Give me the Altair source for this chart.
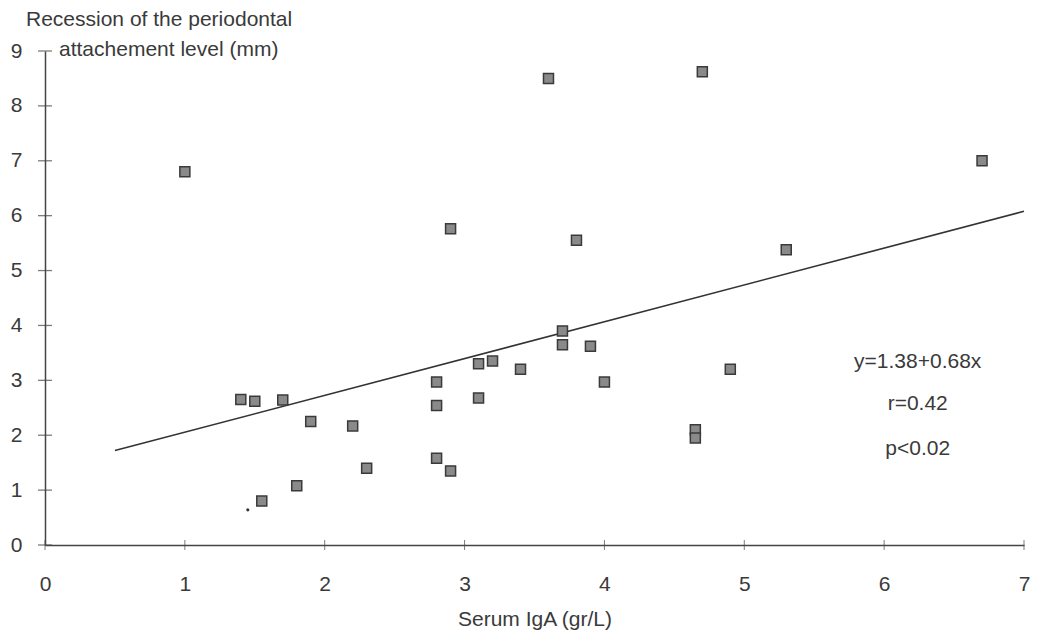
import altair as alt
import pandas as pd

# Scatter points
iga = [1.0, 1.4, 1.5, 1.7, 1.9, 2.2, 2.3, 1.8, 1.55,
       2.8, 2.8, 2.8, 2.9, 3.1, 3.2, 3.1, 3.4, 3.7, 3.7, 3.9, 4.0,
       4.9, 4.65, 4.65, 3.6, 4.7, 2.9, 3.8, 5.3, 6.7]
recession = [6.8, 2.65, 2.62, 2.64, 2.25, 2.17, 1.4, 1.08, 0.8,
             2.97, 2.54, 1.58, 1.35, 3.3, 3.35, 2.68, 3.2, 3.9, 3.65, 3.62, 2.97,
             3.2, 2.1, 1.95, 8.5, 8.62, 5.76, 5.55, 5.38, 7.0]

speck_x = [1.45]
speck_y = [0.64]

# Regression line y = 1.38 + 0.68x, as drawn
line_x = [0.5, 7.0]
line_y = [1.72, 6.08]

stat_labels = ["y=1.38+0.68x", "r=0.42", "p<0.02"]
stat_x = [6.24, 6.24, 6.24]
stat_y = [3.34, 2.57, 1.74]

x_ticks = [0, 1, 2, 3, 4, 5, 6, 7]
y_ticks = [0, 1, 2, 3, 4, 5, 6, 7, 8, 9]

FONT = "Liberation Sans"
TXT = "#3a3a3a"
AX = "#444444"
FS = 21

pts = pd.DataFrame({"x": iga, "y": recession})
speck = pd.DataFrame({"x": speck_x, "y": speck_y})
line = pd.DataFrame({"x": line_x, "y": line_y})
stats = pd.DataFrame({"label": stat_labels, "x": stat_x, "y": stat_y})
xt = pd.DataFrame({"v": x_ticks})
yt = pd.DataFrame({"v": y_ticks})

xs = alt.Scale(domain=[0, 7], nice=False, zero=False)
ys = alt.Scale(domain=[0, 9], nice=False, zero=False)

xaxis = alt.Axis(values=x_ticks, format="d", ticks=False, domainColor=AX, domainWidth=1.5,
                 labelFont=FONT, labelFontSize=FS, labelColor=TXT, labelPadding=28,
                 labelFlush=False,
                 title="Serum IgA (gr/L)", titleFont=FONT, titleFontSize=FS,
                 titleFontWeight="normal", titleColor=TXT, titlePadding=14, grid=False)
yaxis = alt.Axis(values=y_ticks, format="d", ticks=False, domainColor=AX, domainWidth=1.5,
                 labelFont=FONT, labelFontSize=FS, labelColor=TXT, labelPadding=23,
                 labelFlush=False, title=None, grid=False)

base_pts = alt.Chart(pts).mark_square(size=100, fill="#8a8a8a", stroke="#3a3a3a",
                                      strokeWidth=1.5, opacity=1).encode(
    x=alt.X("x:Q", scale=xs, axis=xaxis),
    y=alt.Y("y:Q", scale=ys, axis=yaxis),
)

speck_layer = alt.Chart(speck).mark_circle(size=10, color="#333333", opacity=1).encode(
    x=alt.X("x:Q", scale=xs), y=alt.Y("y:Q", scale=ys))

line_layer = alt.Chart(line).mark_line(color="#333333", strokeWidth=1.6).encode(
    x=alt.X("x:Q", scale=xs), y=alt.Y("y:Q", scale=ys))

xtick_layer = alt.Chart(xt).mark_tick(orient="vertical", size=10, thickness=1,
                                      color=AX).encode(
    x=alt.X("v:Q", scale=xs), y=alt.datum(0, scale=ys))

ytick_layer = alt.Chart(yt).mark_tick(orient="horizontal", size=14, thickness=1.3,
                                      color=AX).encode(
    y=alt.Y("v:Q", scale=ys), x=alt.datum(0, scale=xs))

stat_layer = alt.Chart(stats).mark_text(font=FONT, fontSize=FS, color=TXT,
                                        align="center", baseline="middle").encode(
    x=alt.X("x:Q", scale=xs), y=alt.Y("y:Q", scale=ys), text="label:N")

title1 = alt.Chart(pd.DataFrame({"t": ["Recession of the periodontal"]})).mark_text(
    font=FONT, fontSize=FS, color=TXT, align="left", baseline="middle").encode(
    x=alt.value(-19), y=alt.value(-31), text="t:N")
title2 = alt.Chart(pd.DataFrame({"t": ["attachement level (mm)"]})).mark_text(
    font=FONT, fontSize=FS, color=TXT, align="left", baseline="middle").encode(
    x=alt.value(14), y=alt.value(-1), text="t:N")

chart = alt.layer(line_layer, base_pts, speck_layer, xtick_layer, ytick_layer,
                  stat_layer, title1, title2).properties(
    width=979, height=494,
    autosize=alt.AutoSizeParams(type="none"),
    padding={"left": 37, "top": 43, "right": 7, "bottom": 86},
    background="white",
).configure_view(stroke=None)

chart.save("out.html", embed_options={"renderer": "svg", "actions": False})
